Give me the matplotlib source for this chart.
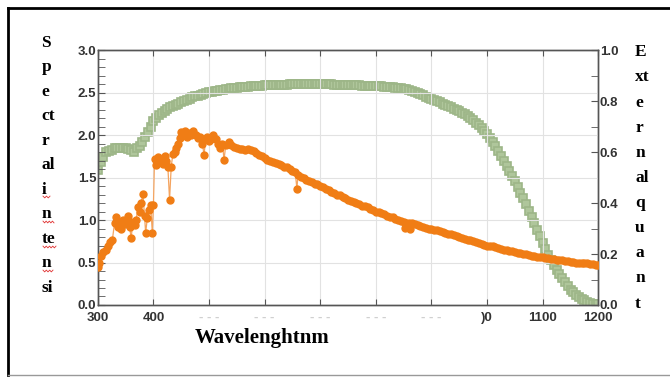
import numpy as np
import matplotlib.pyplot as plt
from matplotlib.lines import Line2D
from matplotlib.ticker import MultipleLocator

# spectral intensity (left axis), noisy short-wavelength part
wl_noisy = [300, 303, 306, 310, 314, 318, 322, 326, 330, 333,
            336, 339, 342, 345, 348, 351, 354, 357, 360, 363,
            366, 369, 372, 375, 378, 381, 384, 386, 389, 392,
            395, 398, 400, 402, 405, 408, 411, 414, 417, 420,
            423, 426, 429, 432, 435, 438, 441, 444, 447, 450,
            453, 456, 460, 464, 468, 472, 476, 480, 484, 488,
            491, 494, 497, 500, 504, 508, 512, 516, 520, 524,
            527]
int_noisy = [0.45, 0.50, 0.58, 0.62, 0.65, 0.70, 0.74, 0.76, 0.96, 1.03,
             0.92, 0.97, 0.90, 1.00, 0.95, 0.98, 1.05, 0.92, 0.79, 0.98,
             0.94, 1.00, 1.15, 1.10, 1.20, 1.31, 1.05, 0.85, 1.02, 1.12,
             1.18, 0.85, 1.18, 1.72, 1.65, 1.74, 1.68, 1.72, 1.66, 1.75,
             1.70, 1.62, 1.24, 1.63, 1.78, 1.80, 1.85, 1.90, 1.96, 2.04,
             2.00, 2.05, 1.98, 2.02, 2.00, 2.05, 2.00, 1.97, 1.98, 1.90,
             1.77, 1.95, 1.98, 1.93, 1.95, 2.00, 1.95, 1.90, 1.85, 1.90,
             1.71]

# smooth part, 530-1200 nm every 5 nm
wl_smooth = list(range(530, 1201, 5))
int_smooth = [1.88, 1.92, 1.88, 1.86, 1.85, 1.84, 1.84, 1.83, 1.84, 1.82,   # 530-575
              1.81, 1.79, 1.77, 1.75, 1.73, 1.71, 1.70, 1.68, 1.67, 1.66,   # 580-625
              1.65, 1.63, 1.62, 1.60, 1.58, 1.56, 1.53, 1.51, 1.49, 1.47,   # 630-675
              1.46, 1.45, 1.43, 1.42, 1.40, 1.39, 1.37, 1.35, 1.33, 1.32,   # 680-725
              1.30, 1.29, 1.27, 1.26, 1.24, 1.23, 1.21, 1.20, 1.19, 1.17,   # 730-775
              1.16, 1.15, 1.13, 1.12, 1.10, 1.09, 1.08, 1.07, 1.05, 1.04,   # 780-825
              1.03, 1.01, 1.00, 0.99, 0.98, 0.97, 0.96, 0.96, 0.95, 0.94,   # 830-875
              0.93, 0.92, 0.91, 0.90, 0.89, 0.885, 0.88, 0.87, 0.86, 0.85,  # 880-925
              0.84, 0.83, 0.82, 0.81, 0.80, 0.79, 0.78, 0.77, 0.76, 0.75,   # 930-975
              0.74, 0.73, 0.72, 0.71, 0.70, 0.695, 0.69, 0.68, 0.67, 0.66,  # 980-1025
              0.65, 0.645, 0.64, 0.63, 0.62, 0.615, 0.61, 0.605, 0.60, 0.59,  # 1030-1075
              0.58, 0.575, 0.57, 0.565, 0.56, 0.555, 0.55, 0.545, 0.54, 0.535,  # 1080-1125
              0.53, 0.525, 0.52, 0.515, 0.51, 0.505, 0.50, 0.50, 0.50, 0.495,  # 1130-1175
              0.49, 0.485, 0.48, 0.475, 0.47]                                # 1180-1200

# isolated dips in the smooth part
wl_dip = [658, 853, 857, 861]
int_dip = [1.37, 0.91, 0.93, 0.90]

# external quantum efficiency (right axis), every 5 nm
wl_eqe = list(range(300, 1201, 5))
eqe = [0.53, 0.56, 0.58, 0.60, 0.605, 0.61, 0.615, 0.615, 0.615, 0.615,        # 300-345
       0.615, 0.612, 0.61, 0.60, 0.615, 0.625, 0.64, 0.66, 0.68, 0.70,         # 350-395
       0.72, 0.735, 0.745, 0.753, 0.76, 0.768, 0.775, 0.78, 0.785, 0.79,       # 400-445
       0.795, 0.80, 0.805, 0.81, 0.815, 0.819, 0.822, 0.825, 0.828, 0.831,     # 450-495
       0.834, 0.836, 0.838, 0.84, 0.842, 0.844, 0.846, 0.848, 0.85, 0.851,     # 500-545
       0.852, 0.854, 0.855, 0.856, 0.857, 0.858, 0.858, 0.859, 0.86, 0.861,    # 550-595
       0.862, 0.862, 0.863, 0.863, 0.864, 0.864, 0.865, 0.865, 0.865, 0.866,   # 600-645
       0.866, 0.866, 0.866, 0.866, 0.866, 0.866, 0.866, 0.866, 0.866, 0.866,   # 650-695
       0.866, 0.866, 0.866, 0.866, 0.866, 0.865, 0.865, 0.865, 0.864, 0.864,   # 700-745
       0.864, 0.863, 0.863, 0.862, 0.862, 0.861, 0.861, 0.86, 0.86, 0.86,      # 750-795
       0.86, 0.859, 0.858, 0.857, 0.856, 0.855, 0.854, 0.853, 0.852, 0.85,     # 800-845
       0.848, 0.846, 0.843, 0.84, 0.836, 0.832, 0.828, 0.823, 0.818, 0.813,    # 850-895
       0.808, 0.804, 0.80, 0.795, 0.79, 0.785, 0.78, 0.775, 0.77, 0.765,       # 900-945
       0.76, 0.755, 0.75, 0.743, 0.735, 0.725, 0.715, 0.705, 0.695, 0.683,     # 950-995
       0.67, 0.655, 0.64, 0.623, 0.605, 0.585, 0.565, 0.545, 0.525, 0.505,     # 1000-1045
       0.485, 0.462, 0.44, 0.418, 0.395, 0.37, 0.345, 0.32, 0.295, 0.27,       # 1050-1095
       0.245, 0.22, 0.195, 0.175, 0.155, 0.137, 0.12, 0.105, 0.09, 0.075,      # 1100-1145
       0.06, 0.05, 0.04, 0.032, 0.025, 0.018, 0.012, 0.008, 0.005, 0.003,      # 1150-1195
       0.002]                                                                  # 1200

xticks = [300, 400, 500, 600, 700, 800, 900, 1000, 1100, 1200]
xlabels = ['300', '400', '- - -', '- - -', '- - -', '- - -', '- - -', ')0', '1100', '1200']

left_label = "S\np\ne\nct\nr\nal\ni\nn\nte\nn\nsi"
right_label = "E\nxt\ne\nr\nn\nal\nq\nu\na\nn\nt"

wl_int = np.array(wl_noisy + wl_smooth + wl_dip)
intensity = np.array(int_noisy + int_smooth + int_dip)
order = np.argsort(wl_int, kind='stable')
wl_int, intensity = wl_int[order], intensity[order]

W, H = 670, 377
fig = plt.figure(figsize=(6.7, 3.77), dpi=100)
ax = fig.add_axes([0.146, 0.191, 0.747, 0.676])
ax2 = ax.twinx()

grid_c = '#e2e2e2'
spine_c = '#555555'
for a in (ax, ax2):
    for s in a.spines.values():
        s.set_color(spine_c)
        s.set_linewidth(1.0)

ax.set_xlim(300, 1200)
ax.set_ylim(0, 3.0)
ax2.set_ylim(0, 1.0)

ax.set_xticks(xticks)
ax.set_xticklabels(xlabels)
ax.yaxis.set_major_locator(MultipleLocator(0.5))
ax.yaxis.set_minor_locator(MultipleLocator(0.1))
ax2.yaxis.set_major_locator(MultipleLocator(0.2))
ax2.yaxis.set_minor_locator(MultipleLocator(0.1))
ax.grid(True, color=grid_c, linewidth=0.8)
ax.set_axisbelow(True)

tick_font = dict(family='Liberation Sans', weight='bold', size=9.5)
ax.tick_params(axis='x', direction='in', length=4, top=True, color=spine_c, pad=5, labelcolor='#333333')
ax.tick_params(axis='y', which='both', direction='in', length=5, color=spine_c, pad=1, labelcolor='#333333')
ax2.tick_params(axis='y', which='both', direction='in', length=5, color=spine_c, pad=1, labelcolor='#333333')
for lab in ax.get_xticklabels() + ax.get_yticklabels() + ax2.get_yticklabels():
    lab.set_fontproperties(tick_font)
for i, lab in enumerate(ax.get_xticklabels()):
    if 2 <= i <= 6:
        lab.set_color('#d0d0d0')

ax2.plot(wl_eqe, eqe, linestyle='-', color='#a3bb8f', linewidth=1.0,
         marker='s', markersize=5.2, markerfacecolor='#afc69b', markeredgecolor='#9db688',
         markeredgewidth=1.2, zorder=2)
ax.plot(wl_int, intensity, linestyle='-', color='#f4a460', linewidth=0.9,
        marker='o', markersize=5.0, markerfacecolor='#f07d15', markeredgecolor='#f07d15', zorder=3)
ax.set_zorder(ax2.get_zorder() + 1)
ax.patch.set_visible(False)

label_font = dict(family='Liberation Serif', weight='bold', size=12.5)
fig.text(0.291, 0.103, "Wavelenghtnm", ha='left', va='center', fontdict=dict(label_font, size=15))
fig.text(0.062, 0.562, left_label, ha='left', va='center', linespacing=1.71, fontdict=label_font)
fig.text(0.948, 0.528, right_label, ha='left', va='center', linespacing=1.76, fontdict=label_font)

# red spell-check squiggles under the left label (pixel positions)
for x0, x1, y0 in [(43, 50, 197), (43, 54, 222), (43, 56, 247), (43, 53, 271)]:
    n = int((x1 - x0) / 1.5) + 1
    sx = np.linspace(x0, x1, n)
    sy = y0 + np.where(np.arange(n) % 2 == 0, -0.9, 0.9)
    fig.add_artist(Line2D(sx / W, 1 - sy / H, transform=fig.transFigure,
                          color='#e03030', linewidth=0.6))

# page border
fig.add_artist(Line2D([0.012, 1.0], [0.979, 0.979], transform=fig.transFigure, color='black', linewidth=2))
fig.add_artist(Line2D([0.012, 0.012], [0.005, 0.979], transform=fig.transFigure, color='black', linewidth=2))
fig.add_artist(Line2D([0.012, 1.0], [0.006, 0.006], transform=fig.transFigure, color='#999999', linewidth=1))

fig.savefig('out.png', dpi=100)
